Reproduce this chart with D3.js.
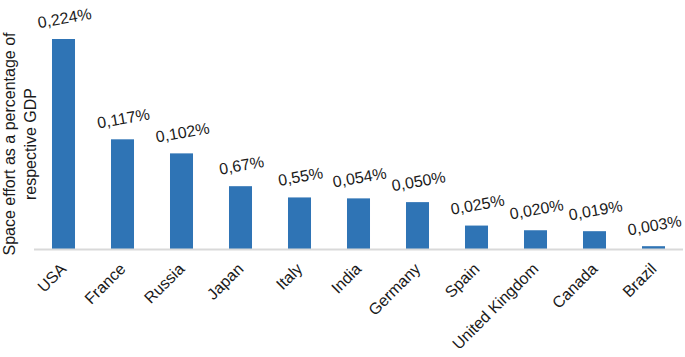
<!DOCTYPE html>
<html lang="en">

<head>
    <meta charset="UTF-8">
    <title>Space effort as a percentage of GDP</title>
    <script src="https://d3js.org/d3.v7.min.js"></script>
    <style>
        body { margin: 0; background: #fff; }
        text { font-family: "Liberation Sans", Arial, sans-serif; fill: #1a1a1a; }
    </style>
</head>

<body>
    <svg width="685" height="357"></svg>
    <script>
        const countries = ['USA', 'France', 'Russia', 'Japan', 'Italy', 'India',
            'Germany', 'Spain', 'United Kingdom', 'Canada', 'Brazil'];
        const values = [0.224, 0.117, 0.102, 0.067, 0.055, 0.054, 0.050, 0.025, 0.020, 0.019, 0.003];
        const valueLabels = ['0,224%', '0,117%', '0,102%', '0,67%', '0,55%', '0,054%',
            '0,050%', '0,025%', '0,020%', '0,019%', '0,003%'];

        const svg = d3.select('svg');

        const x = d3.scaleBand()
            .domain(countries)
            .range([34, 683])
            .paddingInner(0.61)
            .paddingOuter(0.305);

        const y = d3.scaleLinear()
            .domain([0, 0.224])
            .range([249, 39]);

        const data = countries.map((c, i) => ({ c, v: values[i], label: valueLabels[i] }));

        // bars
        svg.selectAll('rect.bar')
            .data(data)
            .enter()
            .append('rect')
            .attr('class', 'bar')
            .attr('x', d => x(d.c))
            .attr('y', d => y(d.v))
            .attr('width', x.bandwidth())
            .attr('height', d => y(0) - y(d.v))
            .attr('fill', '#2f74b5');

        // baseline
        svg.append('line')
            .attr('x1', 34)
            .attr('x2', 683)
            .attr('y1', y(0) + 0.5)
            .attr('y2', y(0) + 0.5)
            .attr('stroke', '#d9d9d9')
            .attr('stroke-width', 2);

        // value labels, slightly tilted
        svg.selectAll('text.val')
            .data(data)
            .enter()
            .append('text')
            .attr('class', 'val')
            .attr('transform', d => `translate(${x(d.c) + x.bandwidth() / 2 + 1},${y(d.v) - 21}) rotate(-10)`)
            .attr('text-anchor', 'middle')
            .attr('dy', '0.35em')
            .style('font-size', '16px')
            .text(d => d.label);

        // category labels
        svg.selectAll('text.cat')
            .data(data)
            .enter()
            .append('text')
            .attr('class', 'cat')
            .attr('transform', d => `translate(${x(d.c) + x.bandwidth() / 2 - 4},${y(0) + 13}) rotate(-45)`)
            .attr('text-anchor', 'end')
            .attr('dy', '0.7em')
            .style('font-size', '16px')
            .text(d => d.c);

        // y axis title
        const title = svg.append('text')
            .attr('transform', 'translate(15,144) rotate(-90)')
            .attr('text-anchor', 'middle')
            .style('font-size', '16px');
        title.append('tspan').attr('x', 0).attr('dy', 0).text('Space effort as a percentage of');
        title.append('tspan').attr('x', 0).attr('dy', '1.3em').text('respective GDP');
    </script>
</body>

</html>
